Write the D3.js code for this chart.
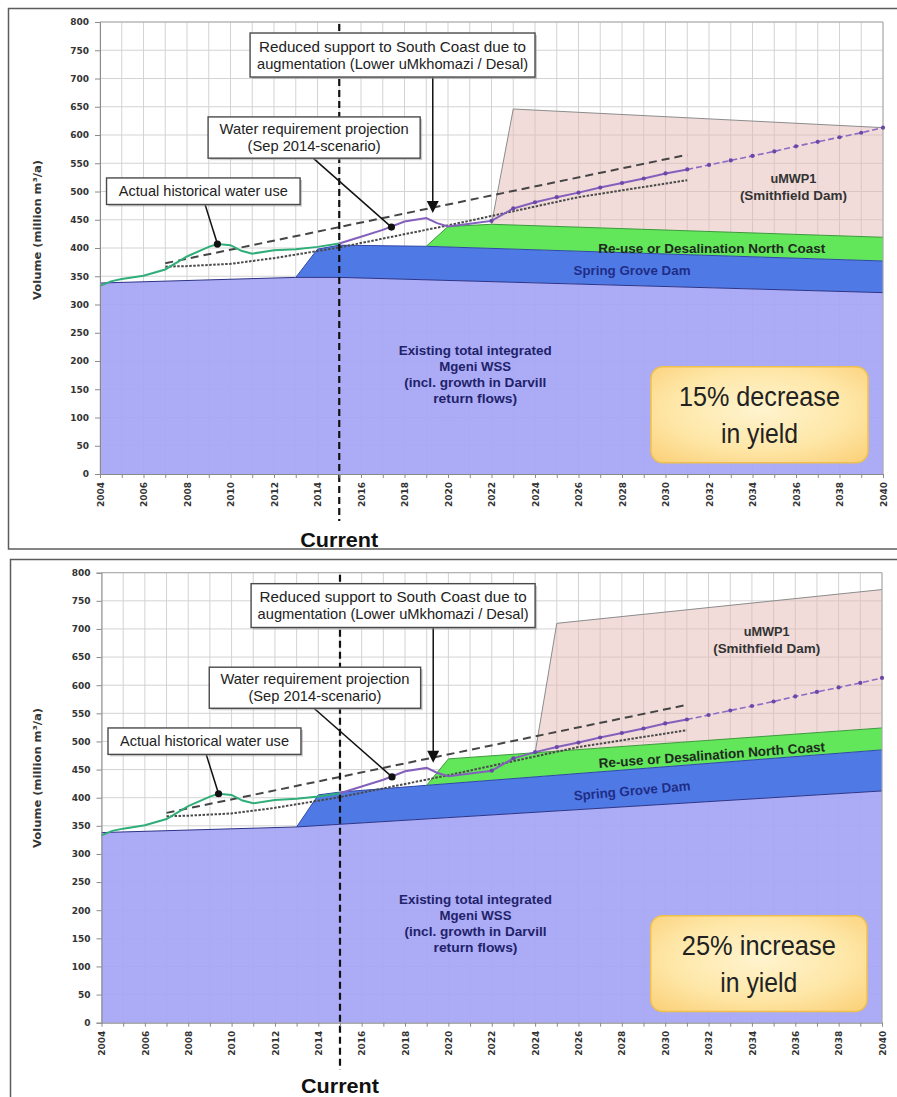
<!DOCTYPE html>
<html>
<head>
<meta charset="utf-8">
<script src="https://cdn.jsdelivr.net/npm/d3@7"></script>
<style>
  html, body { margin: 0; padding: 0; background: #fff; }
  svg { display: block; }
</style>
</head>
<body>
<svg id="chart" width="897" height="1097"></svg>
<script>
// ---------- data (million m³/a) ----------
const yTicks = d3.range(0, 801, 50);
const yearTicks = d3.range(2004, 2041, 1);
const currentYear = 2015;

// Measured demand and projected requirement
const historicalUse = [[2004,333],[2004.5,341],[2005,345],[2006,351],[2007,362],[2008,385],[2009,402],[2009.4,407],[2010,405],[2010.5,395],[2011,390],[2012,396],[2013,398],[2014,402],[2015,408]];
const requirementProjection = [[2015,408],[2016,420],[2017,432],[2018,447],[2019,453],[2019.5,444],[2020,438],[2021,443],[2022,448],[2023,470],[2024,481],[2025,490],[2026,498],[2027,507],[2028,515],[2029,523],[2030,532],[2031,539]];
const requirementExtension = [[2031,539],[2032,547],[2033,555],[2034,563],[2035,571],[2036,580],[2037,588],[2038,596],[2039,604],[2040,613]];
const projectionHigh = [[2007,373],[2031,565]];
const projectionLow = [[2007,367],[2008,368],[2010,372],[2012,382],[2015,401],[2020,440],[2026,490],[2031,520]];
const historicalMarker = [2009.4, 407];
const projectionMarker = [2017.4, 437];
const reducedSupportPoint = [2019.3, 462];

// Cumulative supply (upper edge of each scheme) – 15% decrease in yield
const existingDecrease    = [[2004,338],[2013,348],[2015,348],[2040,321]];
const springGroveDecrease = [[2013,348],[2014,398],[2015,405],[2019,403],[2040,377]];
const northCoastDecrease  = [[2019,403],[2020,438],[2022,442],[2040,419]];
const smithfieldDecrease  = [[2022,442],[2023,646],[2040,613]];

// Cumulative supply – 25% increase in yield
const existingIncrease    = [[2004,338],[2013,348],[2040,412]];
const springGroveIncrease = [[2013,348],[2014,405],[2015,410],[2040,485]];
const northCoastIncrease  = [[2019,422],[2020,469],[2040,524]];
const smithfieldIncrease  = [[2024,480],[2025,710],[2040,770]];

const scenarioNotes = [["15% decrease", "in yield"], ["25% increase", "in yield"]];

// ---------- layout ----------
const panels = [
  {
    frame: { x: 8.5, y: 8.5, w: 895, h: 540.5 },
    plot: { l: 100, r: 883, t: 22, b: 474 },
    currentBottom: 521, currentLabelY: 547, titleY: 230,
    layers: [existingDecrease, springGroveDecrease, northCoastDecrease, smithfieldDecrease],
    note: scenarioNotes[0], noteWidths: [161, 77],
    smithLabel: { x: 2035.88, y: 509 }, coastLabel: { x: 2032.13, y: 400, a: 0 }, groveLabel: { x: 2028.46, y: 361, a: 0 }
  },
  {
    frame: { x: 10.5, y: 559.5, w: 893, h: 545 },
    plot: { l: 101.5, r: 882, t: 572.7, b: 1022.7 },
    currentBottom: 1070, currentLabelY: 1093, titleY: 778,
    layers: [existingIncrease, springGroveIncrease, northCoastIncrease, smithfieldIncrease],
    note: scenarioNotes[1], noteWidths: [154, 77],
    smithLabel: { x: 2034.68, y: 680 }, coastLabel: { x: 2032.15, y: 476, a: -4.2 }, groveLabel: { x: 2028.47, y: 412.4, a: -5 }
  }
];

const fills = ["#a6a6f5", "#4f7ae6", "#62e65a", "#e4bab6"];
const edges = ["#2e3486", "#2f47a6", "#3c9a3c", "#8c8c8c"];
const boxFont = "'Liberation Sans', Arial, sans-serif";
const axisFont = "'DejaVu Sans', Verdana, sans-serif";

function interp(curve, x) {
  if (x <= curve[0][0]) return curve[0][1];
  for (let i = 1; i < curve.length; i++) {
    if (x <= curve[i][0]) {
      const [x0, y0] = curve[i - 1], [x1, y1] = curve[i];
      return y0 + (y1 - y0) * (x - x0) / (x1 - x0);
    }
  }
  return curve[curve.length - 1][1];
}
// polygon between a lower edge (or the baseline) and an upper edge
function band(lower, upper) {
  const x0 = upper[0][0], x1 = upper[upper.length - 1][0];
  const low = [[x0, lower ? interp(lower, x0) : 0]];
  if (lower) lower.forEach(p => { if (p[0] > x0 && p[0] < x1) low.push(p); });
  low.push([x1, lower ? interp(lower, x1) : 0]);
  return upper.concat(low.reverse());
}

const svg = d3.select("#chart");
const defs = svg.append("defs");
const grad = defs.append("radialGradient").attr("id", "noteFill").attr("cx", "50%").attr("cy", "45%").attr("r", "70%");
grad.append("stop").attr("offset", "0%").attr("stop-color", "#fff4cf");
grad.append("stop").attr("offset", "60%").attr("stop-color", "#fee6a6");
grad.append("stop").attr("offset", "100%").attr("stop-color", "#fbd27c");

function drawPanel(p) {
  const g = svg.append("g");
  const x = d3.scaleLinear().domain([2004, 2040]).range([p.plot.l, p.plot.r]);
  const y = d3.scaleLinear().domain([0, 800]).range([p.plot.b, p.plot.t]);
  const line = d3.line().x(d => x(d[0])).y(d => y(d[1]));

  // frame
  g.append("rect").attr("x", p.frame.x).attr("y", p.frame.y).attr("width", p.frame.w).attr("height", p.frame.h)
    .attr("fill", "#fff").attr("stroke", "#5c5c5c").attr("stroke-width", 1.5);

  // grid
  const grid = g.append("g").attr("stroke", "#d3d3d3").attr("stroke-width", 1);
  grid.selectAll("line.v").data(yearTicks).join("line")
    .attr("x1", d => x(d)).attr("x2", d => x(d)).attr("y1", y(0)).attr("y2", y(800));
  grid.selectAll("line.h").data(yTicks).join("line").attr("class", "h")
    .attr("x1", x(2004)).attr("x2", x(2040)).attr("y1", d => y(d)).attr("y2", d => y(d));

  // supply bands
  const [ex, sg, nc, sm] = p.layers;
  const bands = [band(null, ex), band(ex, sg), band(sg, nc), band(nc, sm)];
  const opac = [0.93, 1, 1, 0.5];
  bands.forEach((b, i) => {
    g.append("path").attr("d", line(b) + "Z").attr("fill", fills[i]).attr("fill-opacity", opac[i]);
  });
  p.layers.forEach((c, i) => {
    g.append("path").attr("d", line(c)).attr("fill", "none").attr("stroke", edges[i]).attr("stroke-width", 1);
  });

  // plot border (top / right)
  g.append("path").attr("d", `M${x(2004)},${y(800)}H${x(2040)}V${y(0)}`).attr("fill", "none").attr("stroke", "#a9a9a9");

  // requirement envelope
  g.append("path").attr("d", line(projectionHigh)).attr("fill", "none").attr("stroke", "#454545")
    .attr("stroke-width", 2).attr("stroke-dasharray", "8,5");
  g.append("path").attr("d", line(projectionLow)).attr("fill", "none").attr("stroke", "#4a4a4a")
    .attr("stroke-width", 2).attr("stroke-dasharray", "2.5,1.5");

  // historical use
  g.append("path").attr("d", line(historicalUse)).attr("fill", "none").attr("stroke", "#2fae79").attr("stroke-width", 2);

  // projected requirement
  g.append("path").attr("d", line(requirementProjection)).attr("fill", "none").attr("stroke", "#8460bd").attr("stroke-width", 2);
  g.append("path").attr("d", line(requirementExtension)).attr("fill", "none").attr("stroke", "#8a6cc4")
    .attr("stroke-width", 1.6).attr("stroke-dasharray", "6,3");
  const markerPts = requirementProjection.filter(d => d[0] >= 2022 && Number.isInteger(d[0])).concat(requirementExtension.slice(1));
  g.selectAll("circle.pm").data(markerPts).join("circle").attr("class", "pm")
    .attr("cx", d => x(d[0])).attr("cy", d => y(d[1])).attr("r", 2.1).attr("fill", "#6a48a8");

  // band labels
  const lbl = (tx, ty, text, w, color, angle) => {
    const t = g.append("text").attr("x", tx).attr("y", ty).attr("dy", "0.35em")
      .attr("text-anchor", "middle").attr("font-family", boxFont).attr("font-weight", "bold")
      .attr("font-size", 13.5).attr("fill", color).attr("textLength", w).attr("lengthAdjust", "spacingAndGlyphs").text(text);
    if (angle) t.attr("transform", `rotate(${angle},${tx},${ty})`);
  };
  lbl(x(p.smithLabel.x), y(p.smithLabel.y) - 8.5, "uMWP1", 46, "#333");
  lbl(x(p.smithLabel.x), y(p.smithLabel.y) + 8.5, "(Smithfield Dam)", 107, "#333");
  lbl(x(p.coastLabel.x), y(p.coastLabel.y), "Re-use or Desalination North Coast", 227, "#1e2a1e", p.coastLabel.a);
  lbl(x(p.groveLabel.x), y(p.groveLabel.y), "Spring Grove Dam", 117, "#1f2d86", p.groveLabel.a);
  const exLines = [["Existing total integrated", 153], ["Mgeni WSS", 72], ["(incl. growth in Darvill", 142], ["return flows)", 84]];
  exLines.forEach((l, i) => lbl(x(2021.25), y(177) + (i - 1.5) * 16, l[0], l[1], "#22226a"));

  // scenario note
  const nx0 = x(2029.33), nx1 = x(2039.31), ny0 = y(190), ny1 = y(20);
  g.append("rect").attr("x", nx0).attr("y", ny0).attr("width", nx1 - nx0).attr("height", ny1 - ny0)
    .attr("rx", 12).attr("fill", "url(#noteFill)").attr("stroke", "#efc04c").attr("stroke-width", 1.5);
  const ncx = (nx0 + nx1) / 2, ncy = (ny0 + ny1) / 2;
  p.note.forEach((t, i) => {
    g.append("text").attr("x", ncx).attr("y", ncy + (i === 0 ? -18 : 18.5)).attr("dy", "0.35em")
      .attr("text-anchor", "middle").attr("font-family", boxFont).attr("font-size", 27).attr("fill", "#222")
      .attr("textLength", p.noteWidths[i]).attr("lengthAdjust", "spacingAndGlyphs").text(t);
  });

  // current year marker
  g.append("line").attr("x1", x(currentYear)).attr("x2", x(currentYear)).attr("y1", y(800) + 2).attr("y2", p.currentBottom)
    .attr("stroke", "#111").attr("stroke-width", 2.2).attr("stroke-dasharray", "7,4");
  g.append("text").attr("x", x(currentYear)).attr("y", p.currentLabelY).attr("text-anchor", "middle")
    .attr("font-family", boxFont).attr("font-weight", "bold").attr("font-size", 21).attr("fill", "#111")
    .attr("textLength", 78).attr("lengthAdjust", "spacingAndGlyphs").text("Current");

  // callouts
  const callout = (x0, x1, v0, v1, lines) => {
    const bx = x(x0), bw = x(x1) - x(x0), by = y(v0), bh = y(v1) - y(v0);
    g.append("rect").attr("x", bx + 2).attr("y", by + 2).attr("width", bw).attr("height", bh).attr("fill", "#9a9a9a").attr("opacity", 0.5);
    g.append("rect").attr("x", bx).attr("y", by).attr("width", bw).attr("height", bh).attr("fill", "#fff")
      .attr("stroke", "#4a4a4a").attr("stroke-width", 1.4);
    const cy = by + bh / 2, n = lines.length;
    lines.forEach((l, i) => {
      g.append("text").attr("x", bx + bw / 2).attr("y", cy + (i - (n - 1) / 2) * 17).attr("dy", "0.35em")
        .attr("text-anchor", "middle").attr("font-family", boxFont).attr("font-size", 14.5).attr("fill", "#222")
        .attr("textLength", l[1]).attr("lengthAdjust", "spacingAndGlyphs").text(l[0]);
    });
  };
  // leader lines
  g.append("line").attr("x1", x(2008.83)).attr("y1", y(477)).attr("x2", x(historicalMarker[0])).attr("y2", y(historicalMarker[1]))
    .attr("stroke", "#111").attr("stroke-width", 1.5);
  g.append("line").attr("x1", x(2013.8)).attr("y1", y(559)).attr("x2", x(projectionMarker[0])).attr("y2", y(projectionMarker[1]))
    .attr("stroke", "#111").attr("stroke-width", 1.5);
  [historicalMarker, projectionMarker].forEach(m => {
    g.append("circle").attr("cx", x(m[0])).attr("cy", y(m[1])).attr("r", 3.6).attr("fill", "#111");
  });
  const ax = x(reducedSupportPoint[0]), tipY = y(reducedSupportPoint[1]);
  g.append("line").attr("x1", ax).attr("x2", ax).attr("y1", y(702.6)).attr("y2", tipY - 10).attr("stroke", "#111").attr("stroke-width", 1.5);
  g.append("path").attr("d", `M${ax - 6},${tipY - 12}L${ax + 6},${tipY - 12}L${ax},${tipY}Z`).attr("fill", "#111");

  callout(2004.3, 2013.2, 524, 477, [["Actual historical water use", 169]]);
  callout(2008.97, 2018.72, 632, 559, [["Water requirement projection", 189], ["(Sep 2014-scenario)", 133]]);
  callout(2010.9, 2024.0, 780.5, 702.6, [["Reduced support to South Coast due to", 267], ["augmentation (Lower uMkhomazi / Desal)", 271]]);

  // axes
  const yAxis = g.append("g").attr("transform", `translate(${x(2004)},0)`)
    .call(d3.axisLeft(y).tickValues(yTicks).tickSize(5).tickPadding(6));
  yAxis.select(".domain").attr("stroke", "#8a8a8a");
  yAxis.selectAll(".tick line").attr("stroke", "#8a8a8a");
  yAxis.selectAll("text").attr("font-family", axisFont).attr("font-weight", "bold").attr("font-size", 9).attr("fill", "#333");

  const xAxis = g.append("g").attr("transform", `translate(0,${y(0)})`)
    .call(d3.axisBottom(x).tickValues(yearTicks).tickFormat(d => d % 2 === 0 ? String(d) : "").tickSize(4).tickSizeOuter(0));
  xAxis.select(".domain").attr("stroke", "#8a8a8a");
  xAxis.selectAll(".tick line").attr("stroke", "#8a8a8a");
  xAxis.selectAll("text").attr("font-family", axisFont).attr("font-weight", "bold").attr("font-size", 9).attr("fill", "#333")
    .attr("transform", "rotate(-90)").attr("x", -8).attr("y", 0).attr("dy", "0.35em").style("text-anchor", "end");

  // axis title
  g.append("text").attr("transform", `translate(37,${p.titleY}) rotate(-90)`).attr("text-anchor", "middle").attr("dy", "0.35em")
    .attr("font-family", axisFont).attr("font-weight", "bold").attr("font-size", 11).attr("fill", "#333")
    .attr("textLength", 140).attr("lengthAdjust", "spacingAndGlyphs").text("Volume (million m³/a)");
}

panels.forEach(drawPanel);
</script>
</body>
</html>
